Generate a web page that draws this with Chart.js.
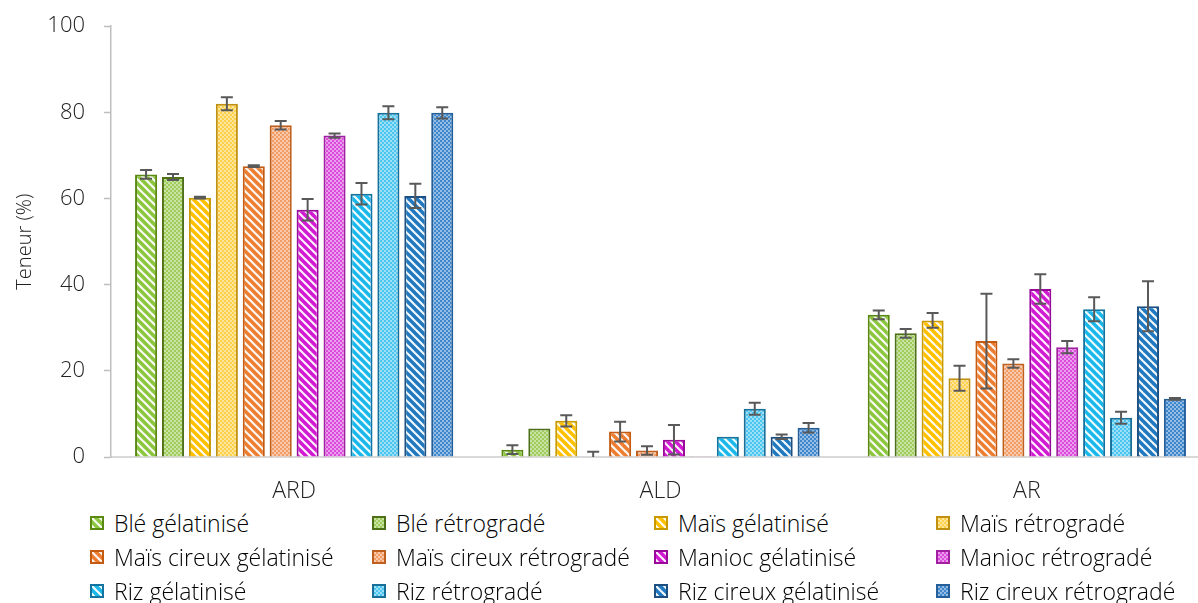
<!DOCTYPE html>
<html lang="fr">
<head>
<meta charset="UTF-8">
<title>Teneur (%)</title>
<script src="https://cdn.jsdelivr.net/npm/chart.js"></script>
<style>
    body { margin: 0; width: 1198px; height: 603px; overflow: hidden; background: #fff; font-family: "Open Sans", sans-serif; }
    #wrap { position: absolute; left: 0; top: -6px; width: 1210px; height: 511px; }
    #legend { position: absolute; left: 90px; top: 506px; display: grid; grid-template-columns: 282px 282px 282px 282px; }
    .item { height: 34px; line-height: 34px; font-size: 23px; font-weight: 300; color: #000; white-space: nowrap; display: flex; align-items: center; }
    .item canvas { margin-right: 10px; }
</style>
</head>
<body>
<div id="wrap"><canvas id="chart" width="1210" height="511"></canvas></div>
<div id="legend"></div>
<script>
var categories = ['ARD', 'ALD', 'AR'];
var seriesNames = ['Blé gélatinisé', 'Blé rétrogradé', 'Maïs gélatinisé', 'Maïs rétrogradé',
    'Maïs cireux gélatinisé', 'Maïs cireux rétrogradé', 'Manioc gélatinisé', 'Manioc rétrogradé',
    'Riz gélatinisé', 'Riz rétrogradé', 'Riz cireux gélatinisé', 'Riz cireux rétrogradé'];

// values per category, one entry per series (same order as seriesNames)
var ardValues = [65.6, 65.0, 60.2, 82.0, 67.5, 77.0, 57.4, 74.6, 61.1, 79.9, 60.6, 79.9];
var ardErrors = [1.0, 0.7, 0.2, 1.5, 0.2, 1.0, 2.5, 0.5, 2.5, 1.5, 2.8, 1.3];
var aldValues = [1.7, 6.6, 8.4, 0, 5.9, 1.5, 4.0, 0.2, 4.7, 11.2, 4.7, 6.8];
var aldErrors = [1.0, 0, 1.3, 1.2, 2.3, 1.0, 3.4, 0, 0, 1.4, 0.5, 1.1];
var arValues = [33.0, 28.7, 31.7, 18.3, 26.9, 21.7, 39.0, 25.5, 34.3, 9.1, 35.0, 13.5];
var arErrors = [1.0, 1.0, 1.7, 2.9, 11.0, 1.0, 3.4, 1.4, 2.8, 1.4, 5.8, 0.2];

var yTicks = [0, 20, 40, 60, 80, 100];

// styles
var fillColors = ['#8cc63f', '#9fcd5c', '#ffc000', '#ffd04a', '#ed7d31', '#f29d65', '#d21ad2', '#dc4cdc',
    '#19b8ec', '#4cc6f0', '#1f78c0', '#3f87cc'];
var borderColors = ['#5a8a12', '#4e7018', '#c79a00', '#c09010', '#c55a11', '#c0601e', '#9a0a9a', '#a020a0',
    '#13759f', '#186f98', '#1d4f80', '#245f99'];
var patternKinds = ['stripe', 'dots', 'stripe', 'dots', 'stripe', 'dots', 'stripe', 'dots', 'stripe', 'dots', 'stripe', 'dots'];

function makePattern(kind, color) {
    var c = document.createElement('canvas');
    var ctx = c.getContext('2d');
    if (kind === 'stripe') {
        c.width = 8; c.height = 8;
        ctx.fillStyle = color;
        ctx.fillRect(0, 0, 8, 8);
        ctx.strokeStyle = 'rgba(255,255,255,0.95)';
        ctx.lineWidth = 2.2;
        [-8, 0, 8].forEach(function (o) {
            ctx.beginPath();
            ctx.moveTo(o - 1, -1);
            ctx.lineTo(o + 9, 9);
            ctx.stroke();
        });
    } else {
        c.width = 4; c.height = 4;
        ctx.fillStyle = color;
        ctx.fillRect(0, 0, 4, 4);
        ctx.fillStyle = 'rgba(255,255,255,0.45)';
        ctx.fillRect(0, 0, 2, 2);
        ctx.fillRect(2, 2, 2, 2);
    }
    return ctx.createPattern(c, 'repeat');
}

var errorsByCategory = [ardErrors, aldErrors, arErrors];

var datasets = seriesNames.map(function (name, i) {
    return {
        label: name,
        data: [ardValues[i], aldValues[i], arValues[i]],
        errors: errorsByCategory.map(function (arr) { return arr[i]; }),
        backgroundColor: makePattern(patternKinds[i], fillColors[i]),
        borderColor: borderColors[i],
        borderWidth: 2,
        borderSkipped: 'start',
        categoryPercentage: 0.882,
        barPercentage: 0.82
    };
});

var errorBars = {
    id: 'errorBars',
    afterDatasetsDraw: function (chart) {
        var ctx = chart.ctx;
        var y = chart.scales.y;
        var area = chart.chartArea;
        ctx.save();
        ctx.beginPath();
        ctx.rect(area.left, area.top - 10, area.right - area.left, area.bottom - area.top + 10);
        ctx.clip();
        ctx.strokeStyle = '#595959';
        ctx.lineWidth = 2;
        chart.data.datasets.forEach(function (ds, di) {
            var meta = chart.getDatasetMeta(di);
            meta.data.forEach(function (bar, j) {
                var e = ds.errors[j];
                if (!e) return;
                var v = ds.data[j];
                var yTop = y.getPixelForValue(v + e);
                var yBot = y.getPixelForValue(v - e);
                var x = bar.x;
                ctx.beginPath();
                ctx.moveTo(x, yTop); ctx.lineTo(x, yBot);
                ctx.moveTo(x - 6, yTop); ctx.lineTo(x + 6, yTop);
                ctx.moveTo(x - 6, yBot); ctx.lineTo(x + 6, yBot);
                ctx.stroke();
            });
        });
        ctx.restore();
    }
};

Chart.defaults.font.family = '"Open Sans", sans-serif';
Chart.defaults.font.weight = 300;
Chart.defaults.color = '#222';

new Chart(document.getElementById('chart'), {
    type: 'bar',
    data: { labels: categories, datasets: datasets },
    options: {
        responsive: false,
        animation: false,
        events: [],
        layout: { padding: 0 },
        plugins: { legend: { display: false }, tooltip: { enabled: false } },
        scales: {
            x: {
                grid: { display: false },
                border: { display: true, color: '#d9d9d9', width: 2 },
                ticks: { font: { size: 23 }, padding: 13, color: '#222' },
                afterFit: function (s) { s.height = 48; }
            },
            y: {
                min: 0, max: 100,
                afterBuildTicks: function (s) { s.ticks = yTicks.map(function (v) { return { value: v }; }); },
                grid: { drawOnChartArea: false, drawTicks: true, tickLength: 7, color: '#bfbfbf', tickWidth: 1.5 },
                border: { display: true, color: '#bfbfbf', width: 1.5 },
                ticks: { font: { size: 22 }, padding: 19, color: '#222' },
                title: { display: true, text: 'Teneur (%)', font: { size: 20 }, color: '#222', padding: { top: 13, bottom: 0 } },
                afterFit: function (s) { s.width = 111; }
            }
        }
    },
    plugins: [errorBars]
});

// legend in 4 columns
var legend = document.getElementById('legend');
seriesNames.forEach(function (name, i) {
    var item = document.createElement('div');
    item.className = 'item';
    var sw = document.createElement('canvas');
    sw.width = 14; sw.height = 14;
    var sctx = sw.getContext('2d');
    sctx.fillStyle = makePattern(patternKinds[i], fillColors[i]);
    sctx.fillRect(0, 0, 14, 14);
    sctx.strokeStyle = borderColors[i];
    sctx.lineWidth = 2;
    sctx.strokeRect(1, 1, 12, 12);
    item.appendChild(sw);
    var span = document.createElement('span');
    span.textContent = name;
    item.appendChild(span);
    legend.appendChild(item);
});
</script>
</body>
</html>
